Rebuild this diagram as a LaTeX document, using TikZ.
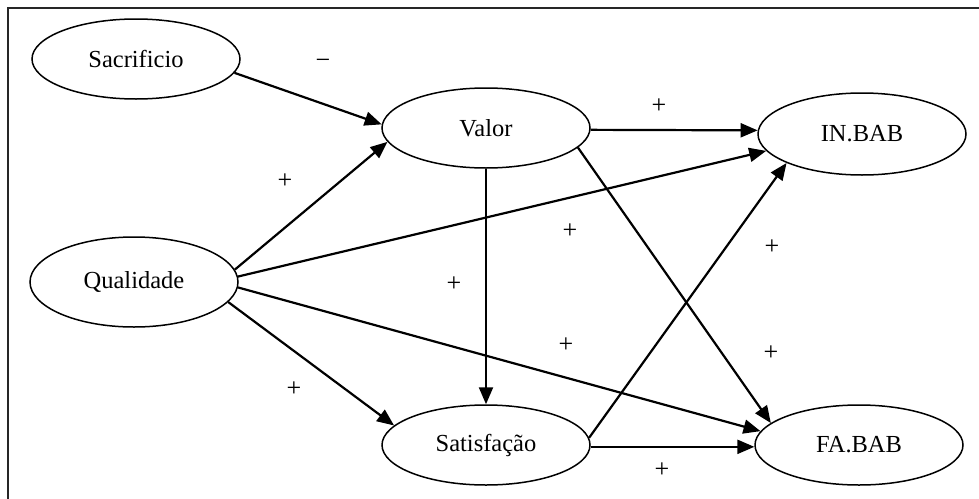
\documentclass[tikz,border=0pt]{standalone}
\usepackage{fontspec}
\setmainfont{Liberation Serif}
\usetikzlibrary{shapes.geometric,arrows.meta}
\begin{document}
\begin{tikzpicture}[x=1pt,y=-1pt,
  var/.style={ellipse,draw,line width=1.5pt,minimum width=208pt,minimum height=80pt,inner sep=0pt,font=\fontsize{24.5}{28}\selectfont},
  link/.style={line width=2.2pt,-{Triangle[length=17pt,width=14pt]}},
  sign/.style={font=\fontsize{26}{28}\selectfont,inner sep=0pt}]
\useasboundingbox (0,0) rectangle (979,498);
\draw[line width=2pt,draw=black!85] (8,510) -- (8,8) -- (990,8);
\node[var] (sac) at (136,59) {Sacrificio};
\node[var] (val) at (486,128) {Valor};
\node[var,minimum height=82pt] (inb) at (862,134) {IN.BAB};
\node[var,minimum height=90pt] (qua) at (134,282) {Qualidade};
\node[var] (sat) at (486,445) {Satisfação};
\node[var] (fab) at (859,445) {FA.BAB};
% connectors
\draw[link] (sac.-8) -- (val.178);
\draw[link] (qua.7) -- (val.188);
\draw[link] (val.-1) -- (inb.178);
\draw[link] (qua.3) -- (inb.190);
\draw[link] (val.-12) -- (fab.166);
\draw[link] (val.south) -- (sat.north);
\draw[link] (qua.-3) -- (fab.172);
\draw[link] (qua.-12) -- (sat.168);
\draw[link] (sat.4) -- (inb.201);
\draw[link] (sat.-1) -- (fab.181);
% labels
\node[sign] (l1) at (323,64) {−};
\node[sign] (l2) at (285,181) {+};
\node[sign] (l3) at (659,106) {+};
\node[sign] (l4) at (570,231) {+};
\node[sign] (l5) at (771,353) {+};
\node[sign] (l6) at (454,284) {+};
\node[sign] (l7) at (566,345) {+};
\node[sign] (l8) at (294,389) {+};
\node[sign] (l9) at (772,247) {+};
\node[sign] (l10) at (662,470) {+};
\end{tikzpicture}
\end{document}
